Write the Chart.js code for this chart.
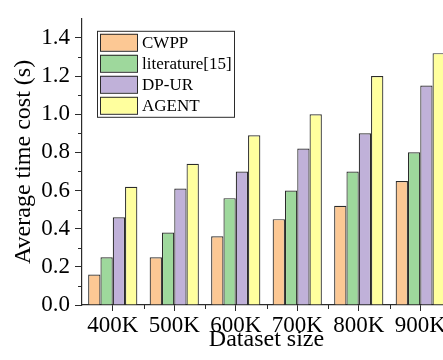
<!DOCTYPE html>
<html>
<head>
<meta charset="utf-8">
<style>
  html, body { margin: 0; padding: 0; overflow: hidden; background: #fff; }
  #wrap { width: 443px; height: 360px; overflow: hidden; }
</style>
<script src="https://cdn.jsdelivr.net/npm/chart.js@4.4.0/dist/chart.umd.min.js"></script>
</head>
<body>
<div id="wrap"><canvas id="timeChart" width="470" height="360"></canvas></div>
<script>
// data
const categories = ['400K', '500K', '600K', '700K', '800K', '900K'];
const seriesNames = ['CWPP', 'literature[15]', 'DP-UR', 'AGENT'];
const cwpp = [0.16, 0.25, 0.36, 0.45, 0.52, 0.65];
const literature15 = [0.25, 0.38, 0.56, 0.60, 0.70, 0.80];
const dpur = [0.46, 0.61, 0.70, 0.82, 0.90, 1.15];
const agent = [0.62, 0.74, 0.89, 1.00, 1.20, 1.32];
const yTicks = [0, 0.2, 0.4, 0.6, 0.8, 1.0, 1.2, 1.4];
const yMinorTicks = [0.1, 0.3, 0.5, 0.7, 0.9, 1.1, 1.3];

const fillColors = ['#FCC894', '#9ED89C', '#C0B1D9', '#FFFF9E'];
const edge = '#2b2b2b';
const serif = '"Liberation Serif", "Times New Roman", serif';

// boxed legend drawn in the upper left of the plot
const boxLegend = {
    id: 'boxLegend',
    afterDraw(chart) {
        const ctx = chart.ctx;
        const area = chart.chartArea;
        const x0 = area.left + 15, y0 = area.top + 12;
        const rowH = 21, w = 137, h = 86;
        ctx.save();
        ctx.fillStyle = '#fff';
        ctx.fillRect(x0, y0, w, h);
        ctx.strokeStyle = edge;
        ctx.lineWidth = 1;
        ctx.strokeRect(x0 + 0.5, y0 + 0.5, w, h);
        ctx.font = '17px ' + serif;
        ctx.textBaseline = 'middle';
        chart.data.datasets.forEach((ds, i) => {
            const ry = y0 + 3 + i * rowH;
            ctx.fillStyle = ds.backgroundColor;
            ctx.fillRect(x0 + 3, ry, 37, 17);
            ctx.strokeStyle = edge;
            ctx.strokeRect(x0 + 3.5, ry + 0.5, 37, 17);
            ctx.fillStyle = '#000';
            ctx.fillText(ds.label, x0 + 45, ry + 9.5);
        });
        ctx.restore();
    }
};

// minor ticks on both axes
const minorTicks = {
    id: 'minorTicks',
    afterDraw(chart) {
        const ctx = chart.ctx;
        const xs = chart.scales.x, ys = chart.scales.y;
        ctx.save();
        ctx.strokeStyle = edge;
        ctx.lineWidth = 1;
        ctx.beginPath();
        yMinorTicks.forEach(v => {
            const py = Math.round(ys.getPixelForValue(v)) + 0.5;
            ctx.moveTo(ys.right - 4, py);
            ctx.lineTo(ys.right, py);
        });
        const step = xs.getPixelForValue(1) - xs.getPixelForValue(0);
        categories.forEach((c, i) => {
            const px = Math.round(xs.getPixelForValue(i) + step / 2) + 0.5;
            ctx.moveTo(px, xs.top);
            ctx.lineTo(px, xs.top + 4);
        });
        ctx.stroke();
        ctx.restore();
    }
};

const seriesValues = [cwpp, literature15, dpur, agent];

new Chart(document.getElementById('timeChart'), {
    type: 'bar',
    data: {
        labels: categories,
        datasets: seriesNames.map((name, i) => ({
            label: name,
            data: seriesValues[i],
            backgroundColor: fillColors[i],
            borderColor: edge,
            borderWidth: 1.2,
            categoryPercentage: 0.8,
            barPercentage: 1.0
        }))
    },
    options: {
        responsive: false,
        animation: false,
        layout: { padding: { top: 7, right: 19, left: 0, bottom: 0 } },
        plugins: {
            legend: { display: false },
            tooltip: { enabled: false }
        },
        scales: {
            x: {
                grid: { drawOnChartArea: false, tickLength: 6, tickColor: edge, offset: false },
                border: { color: edge, width: 1.2 },
                ticks: { color: '#000', padding: 1, font: { family: serif, size: 23 }, maxRotation: 0, autoSkip: false },
                title: {
                    display: true, text: 'Dataset size', color: '#000',
                    font: { family: serif, size: 24 }, padding: { top: 0, bottom: 6 }
                },
                afterFit: s => { s.height = 55; }
            },
            y: {
                min: 0,
                max: 1.5,
                afterBuildTicks: s => { s.ticks = yTicks.map(v => ({ value: v })); },
                grid: { drawOnChartArea: false, tickLength: 7, tickColor: edge },
                border: { color: edge, width: 1.2 },
                ticks: {
                    color: '#000', padding: 5, font: { family: serif, size: 23 },
                    callback: v => Number(v).toFixed(1)
                },
                title: {
                    display: true, text: 'Average time cost (s)', color: '#000',
                    font: { family: serif, size: 24 }, padding: { top: 9, bottom: 0 }
                },
                afterFit: s => { s.width = 82; }
            }
        }
    },
    plugins: [minorTicks, boxLegend]
});
</script>
</body>
</html>
